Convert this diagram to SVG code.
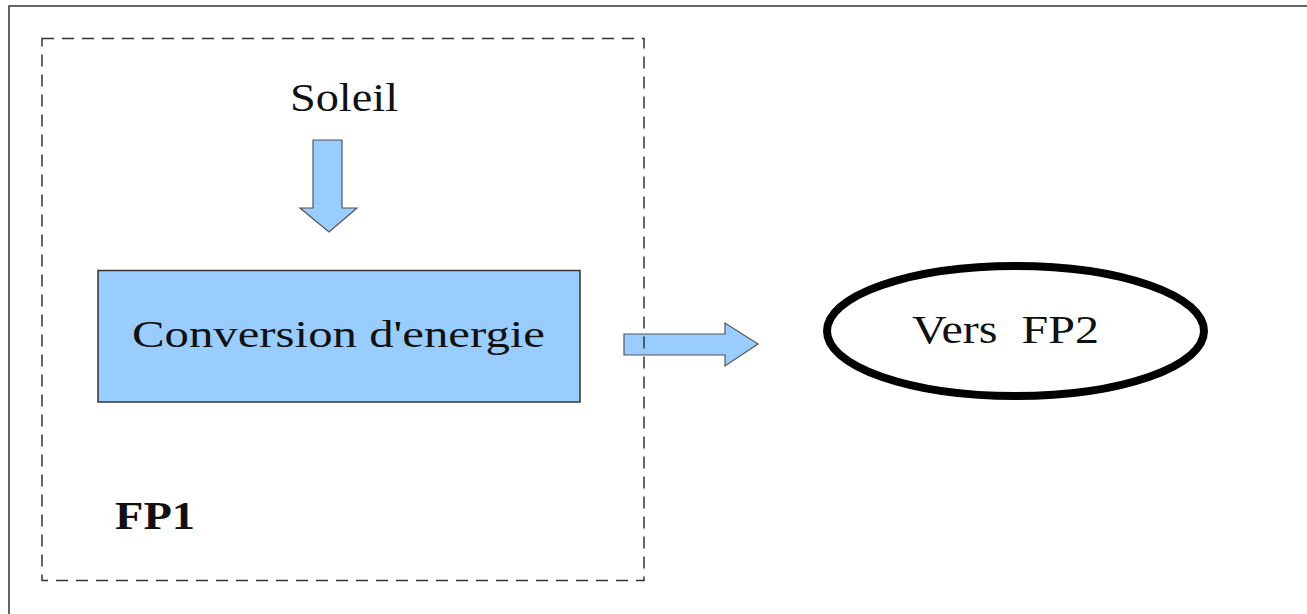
<svg xmlns="http://www.w3.org/2000/svg" width="1307" height="614" viewBox="0 0 1307 614">
  <style>
    .lbl { font-family: "Liberation Serif", "Times New Roman", serif; fill: #111; }
    .arrow { fill: #99ccff; stroke: #555; stroke-width: 1.2; }
  </style>
  <rect width="1307" height="614" fill="#fff"/>
  <g id="frame">
    <rect x="9" y="6" width="1400" height="700" fill="none" stroke="#333" stroke-width="1.5"/>
  </g>
  <g id="connectors">
    <polygon class="arrow" points="313,140 342,140 342,208 357,208 329,232 300,208 313,208"/>
    <polygon class="arrow" points="624,334 725,334 725,323 758,344 725,366 725,355 624,355"/>
  </g>
  <g id="fp1">
    <rect x="42" y="38.5" width="602" height="542" fill="none" stroke="#333" stroke-width="1.5" stroke-dasharray="12 8"/>
    <text class="lbl" x="115" y="529" font-size="39" font-weight="bold" textLength="80" lengthAdjust="spacingAndGlyphs">FP1</text>
  </g>
  <g id="soleil">
    <text class="lbl" x="290" y="111" font-size="41" textLength="108" lengthAdjust="spacingAndGlyphs">Soleil</text>
  </g>
  <g id="conversion">
    <rect x="98" y="270.5" width="482" height="131.5" fill="#99ccff" stroke="#333" stroke-width="1.5"/>
    <text class="lbl" x="132" y="347" font-size="38" textLength="413" lengthAdjust="spacingAndGlyphs">Conversion d'energie</text>
  </g>
  <g id="fp2">
    <ellipse cx="1015.5" cy="331" rx="188.5" ry="65" fill="#fff" stroke="#000" stroke-width="8"/>
    <text class="lbl" x="912" y="343" font-size="40" xml:space="preserve" textLength="187" lengthAdjust="spacingAndGlyphs">Vers  FP2</text>
  </g>
</svg>
